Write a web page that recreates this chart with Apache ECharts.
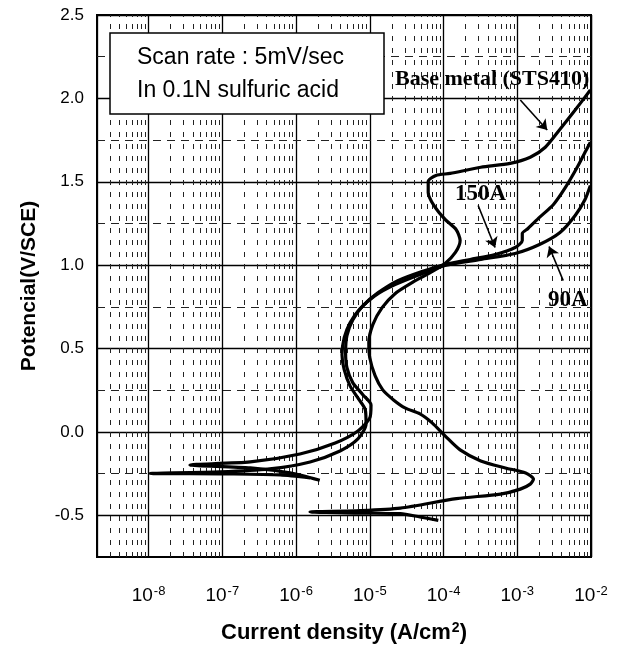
<!DOCTYPE html>
<html>
<head>
<meta charset="utf-8">
<style>
html, body { margin: 0; padding: 0; background: #fff; }
#chart { width: 617px; height: 646px; }
</style>
<script src="https://cdn.jsdelivr.net/npm/echarts@6.0.0/dist/echarts.min.js"></script>
</head>
<body>
<div id="chart"></div>
<script>
// [current density (A/cm2), potential (V/SCE)]
const baseMetal = [
    [8.5e-5, -0.53], [4.8e-5, -0.51], [2.6e-5, -0.49], [7.4e-6, -0.487], [1.55e-6, -0.48],
    [7.4e-6, -0.472], [2.6e-5, -0.457], [1.5e-4, -0.40], [5.9e-4, -0.373], [1.1e-3, -0.343],
    [1.5e-3, -0.313], [1.66e-3, -0.283], [1.3e-3, -0.246], [6.9e-4, -0.216], [3.2e-4, -0.174],
    [1.68e-4, -0.108], [1.05e-4, -0.024], [7.0e-5, 0.054], [4.8e-5, 0.108], [3.0e-5, 0.144],
    [2.1e-5, 0.192], [1.5e-5, 0.252], [1.18e-5, 0.337], [1.0e-5, 0.445], [9.7e-6, 0.535],
    [1.1e-5, 0.643], [1.47e-5, 0.745], [2.2e-5, 0.829], [3.75e-5, 0.895], [6.6e-5, 0.955],
    [1.05e-4, 1.01], [1.45e-4, 1.076], [1.68e-4, 1.148], [1.48e-4, 1.214], [1.05e-4, 1.274],
    [7.4e-5, 1.358], [6.2e-5, 1.436], [6.2e-5, 1.502], [7.9e-5, 1.538], [1.23e-4, 1.55],
    [3.2e-4, 1.587], [8.0e-4, 1.61], [1.5e-3, 1.647], [2.4e-3, 1.707], [3.8e-3, 1.815],
    [6.1e-3, 1.93], [9.8e-3, 2.05]
];
const weld150A = [
    [2.1e-6, -0.29], [8.3e-7, -0.246], [2.4e-7, -0.216], [3.65e-8, -0.198], [2.4e-7, -0.18],
    [1.13e-6, -0.132], [3.4e-6, -0.066], [6.9e-6, 0.006], [1.0e-5, 0.084], [1.04e-5, 0.162],
    [8.1e-6, 0.222], [5.9e-6, 0.294], [4.9e-6, 0.385], [4.7e-6, 0.475], [4.9e-6, 0.577],
    [5.9e-6, 0.673], [8.1e-6, 0.757], [1.3e-5, 0.835], [2.4e-5, 0.907], [5.1e-5, 0.962],
    [1.05e-4, 1.004], [2.3e-4, 1.034], [5.0e-4, 1.064], [9.35e-4, 1.106], [1.17e-3, 1.148],
    [1.17e-3, 1.19], [1.4e-3, 1.22], [2.0e-3, 1.286], [3.1e-3, 1.364], [4.5e-3, 1.466],
    [6.5e-3, 1.587], [8.3e-3, 1.677], [9.8e-3, 1.737]
];
const weld90A = [
    [1.55e-6, -0.276], [6.1e-7, -0.258], [1.27e-7, -0.252], [1.05e-8, -0.249], [9.3e-8, -0.24],
    [4.4e-7, -0.222], [1.55e-6, -0.18], [3.95e-6, -0.114], [6.9e-6, -0.042], [8.9e-6, 0.048],
    [8.7e-6, 0.132], [6.9e-6, 0.204], [5.4e-6, 0.276], [4.5e-6, 0.373], [4.2e-6, 0.463],
    [4.5e-6, 0.565], [5.4e-6, 0.655], [7.4e-6, 0.739], [1.18e-5, 0.817], [2.2e-5, 0.883],
    [4.8e-5, 0.944], [1.05e-4, 0.998], [3.2e-4, 1.034], [9.35e-4, 1.07], [2.0e-3, 1.124],
    [3.8e-3, 1.196], [6.1e-3, 1.298], [8.3e-3, 1.394], [9.8e-3, 1.478]
];

// minor grid: 2..9 x 10^n, and the quarter-volt dashed lines
const decades = [-9, -8, -7, -6, -5, -4, -3];
const minorSteps = [2, 3, 4, 5, 6, 7, 8, 9];
const yMinor = [-0.25, 0.25, 0.75, 1.25, 1.75, 2.25];
const yRange = [-0.75, 2.5];

// annotation arrows [from, to]
const arrows = [
    [[1.1e-3, 1.99], [2.55e-3, 1.81]],
    [[2.95e-4, 1.358], [5.0e-4, 1.106]],
    [[4.2e-3, 0.907], [2.7e-3, 1.112]]
];

const xMinor = [];
decades.forEach(d => {
    minorSteps.forEach(k => {
        const v = k * Math.pow(10, d);
        if (v > 2.01e-9 && v < 1e-2) xMinor.push(v);
    });
});

const chart = echarts.init(document.getElementById('chart'));
const sans = "'Liberation Sans', Arial, sans-serif";
const serif = "'Liberation Serif', 'Times New Roman', serif";

const curveStyle = {
    type: 'line',
    symbol: 'none',
    smooth: 0.25,
    lineStyle: { color: '#000', width: 3.2 },
    z: 5
};

const minorV = xMinor.map(v => [
    { coord: [v, yRange[0]], lineStyle: { color: '#222', width: 1, type: [5, 7] } },
    { coord: [v, yRange[1]] }
]);
const minorH = yMinor.map(v => ({
    yAxis: v,
    lineStyle: { color: '#222', width: 1, type: [8, 6] }
}));

const options = {
    animation: false,
    backgroundColor: '#fff',
    grid: {
        left: 97,
        right: 26,
        top: 15,
        bottom: 89,
        outerBoundsMode: 'none',
        containLabel: false,
        show: true,
        borderColor: '#000',
        borderWidth: 2
    },
    xAxis: {
        type: 'log',
        logBase: 10,
        min: 2e-9,
        max: 1e-2,
        name: 'Current density (A/cm{s|2})',
        nameLocation: 'middle',
        nameGap: 64,
        nameTextStyle: {
            rich: {
                s: { fontSize: 14, fontWeight: 'bold', fontFamily: sans, verticalAlign: 'top', padding: [0, 0, 10, 1] }
            },
            fontSize: 22,
            fontWeight: 'bold',
            fontFamily: sans,
            color: '#000'
        },
        axisLine: { show: false },
        axisTick: { show: false },
        axisLabel: {
            margin: 28,
            color: '#000',
            formatter: v => {
                const e = Math.log10(v);
                const r = Math.round(e);
                if (Math.abs(e - r) > 1e-6) return '';
                return '{n|10}{s|' + r + '}';
            },
            rich: {
                n: { fontSize: 19, fontFamily: sans, color: '#000' },
                s: { fontSize: 13, fontFamily: sans, color: '#000', verticalAlign: 'top', padding: [0, 0, 9, 1] }
            }
        },
        splitLine: { show: true, lineStyle: { color: '#000', width: 1.3 } }
    },
    yAxis: {
        type: 'value',
        min: yRange[0],
        max: yRange[1],
        interval: 0.25,
        name: 'Potencial(V/SCE)',
        nameLocation: 'middle',
        nameRotate: 90,
        nameGap: 57,
        nameTextStyle: { fontSize: 21, fontWeight: 'bold', fontFamily: sans, color: '#000' },
        axisLine: { show: false },
        axisTick: { show: false },
        axisLabel: {
            margin: 13,
            fontSize: 17,
            fontFamily: sans,
            color: '#000',
            formatter: v => (Math.abs(v * 2 - Math.round(v * 2)) < 1e-6 ? v.toFixed(1) : '')
        },
        splitLine: { show: true, lineStyle: { color: ['rgba(0,0,0,0)', '#000'], width: 1.3 } }
    },
    series: [
        {
            type: 'line',
            data: [],
            silent: true,
            z: 1,
            markLine: {
                silent: true,
                symbol: ['none', 'none'],
                label: { show: false },
                animation: false,
                lineStyle: { color: '#222', width: 1, type: [5, 7] },
                data: minorV.concat(minorH)
            }
        },
        Object.assign({ name: 'Base metal (STS410)', data: baseMetal }, curveStyle),
        Object.assign({ name: '150A', data: weld150A }, curveStyle),
        Object.assign({ name: '90A', data: weld90A }, curveStyle),
        {
            type: 'line',
            data: [],
            silent: true,
            z: 6,
            markLine: {
                silent: true,
                symbol: ['none', 'arrow'],
                symbolSize: 10,
                label: { show: false },
                lineStyle: { color: '#000', width: 1.6, type: 'solid' },
                data: arrows.map(a => [{ coord: a[0] }, { coord: a[1] }])
            }
        }
    ],
    graphic: [
        {
            type: 'rect',
            z: 10,
            shape: { x: 110, y: 33, width: 274, height: 81 },
            style: { fill: '#fff', stroke: '#000', lineWidth: 1.5 }
        },
        {
            type: 'text', z: 11, left: 137, top: 46,
            style: { text: 'Scan rate : 5mV/sec', font: "23px " + sans, fill: '#000' }
        },
        {
            type: 'text', z: 11, left: 137, top: 79,
            style: { text: 'In 0.1N sulfuric acid', font: "23px " + sans, fill: '#000' }
        },
        {
            type: 'text', z: 11, left: 395, top: 68,
            style: { text: 'Base metal (STS410)', font: "bold 22px " + serif, fill: '#000' }
        },
        {
            type: 'text', z: 11, left: 455, top: 183,
            style: { text: '150A', font: "bold 23px " + serif, fill: '#000' }
        },
        {
            type: 'text', z: 11, left: 548, top: 289,
            style: { text: '90A', font: "bold 23px " + serif, fill: '#000' }
        }
    ]
};

chart.setOption(options);
</script>
</body>
</html>
